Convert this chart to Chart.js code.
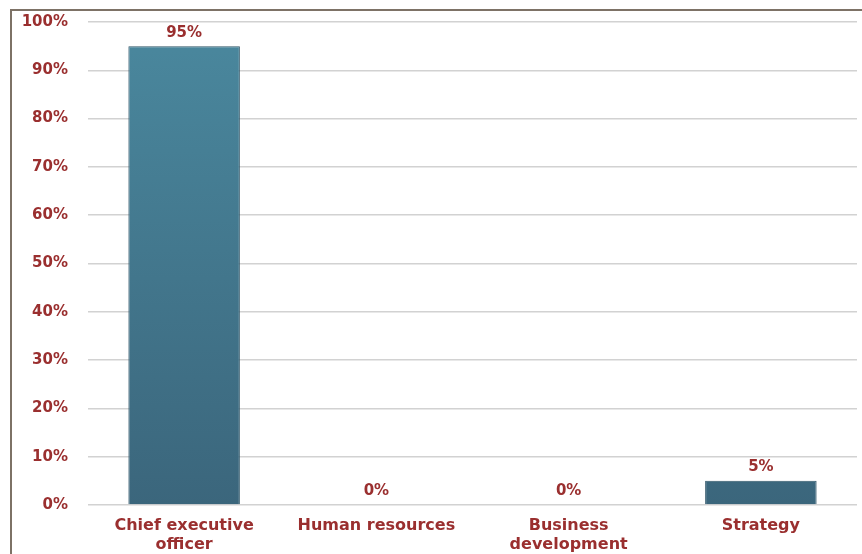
<!DOCTYPE html>
<html>
<head>
<meta charset="utf-8">
<script src="https://cdn.jsdelivr.net/npm/chart.js@4.4.0/dist/chart.umd.min.js"></script>
<style>
  html, body { margin: 0; padding: 0; background: #fff; }
  #wrap { width: 862px; height: 554px; position: relative; }
</style>
</head>
<body>
<div id="wrap"><canvas id="graphique"></canvas></div>
<script>
// categories et valeurs
const categories = [["Chief executive", "officer"], "Human resources", ["Business", "development"], "Strategy"];
const valeurs = [95, 0, 0, 5];
const ticksY = [0, 10, 20, 30, 40, 50, 60, 70, 80, 90, 100];

const rouge = "#9a2f2f";
const police = "'DejaVu Sans', sans-serif";

// cadre autour du graphique (coin haut gauche seulement visible)
const cadre = {
  id: "cadre",
  beforeDraw(chart) {
    const ctx = chart.ctx;
    ctx.save();
    ctx.fillStyle = "#fff";
    ctx.fillRect(0, 0, chart.width, chart.height);
    ctx.strokeStyle = "#7d7266";
    ctx.lineWidth = 2;
    ctx.beginPath();
    ctx.moveTo(11, chart.height + 5);
    ctx.lineTo(11, 10);
    ctx.lineTo(chart.width + 5, 10);
    ctx.stroke();
    ctx.restore();
  }
};

// étiquettes au dessus des barres
const etiquettes = {
  id: "etiquettes",
  afterDatasetsDraw(chart) {
    const ctx = chart.ctx;
    const meta = chart.getDatasetMeta(0);
    ctx.save();
    ctx.fillStyle = rouge;
    ctx.font = "bold 15px " + police;
    ctx.textAlign = "center";
    ctx.textBaseline = "bottom";
    meta.data.forEach((bar, i) => {
      ctx.fillText(valeurs[i] + "%", bar.x, bar.y - 6);
    });
    ctx.restore();
  }
};

const ctx = document.querySelector("#graphique");
const g = ctx.getContext("2d");
const degrade = g.createLinearGradient(0, 22, 0, 505);
degrade.addColorStop(0, "#4a889e");
degrade.addColorStop(1, "#3b667c");

new Chart(ctx, {
  type: "bar",
  data: {
    labels: categories,
    datasets: [{
      data: valeurs,
      backgroundColor: degrade,
      borderColor: "#2f5568",
      borderWidth: 1,
      categoryPercentage: 0.58,
      barPercentage: 1
    }]
  },
  options: {
    responsive: true,
    maintainAspectRatio: false,
    animation: false,
    layout: { padding: { top: 22, right: 5, left: 0, bottom: 0 } },
    plugins: { legend: { display: false }, tooltip: { enabled: false } },
    scales: {
      x: {
        grid: { display: false },
        border: { display: false },
        ticks: {
          color: rouge,
          font: { family: police, size: 16, weight: "bold", lineHeight: 1.15 },
          padding: 4,
          maxRotation: 0,
          autoSkip: false
        },
        afterFit(scale) { scale.height = 49; }
      },
      y: {
        min: 0,
        max: 100,
        afterBuildTicks(scale) { scale.ticks = ticksY.map(v => ({ value: v })); },
        grid: { color: "#d2d2d2", lineWidth: 1.5, drawTicks: false },
        border: { display: false },
        ticks: {
          color: rouge,
          font: { family: police, size: 15, weight: "bold" },
          padding: 20,
          callback: v => v + "%"
        },
        afterFit(scale) {
          scale.width = 88;
          scale.paddingTop = 0;
          scale.paddingBottom = 0;
        }
      }
    }
  },
  plugins: [cadre, etiquettes]
});
</script>
</body>
</html>
